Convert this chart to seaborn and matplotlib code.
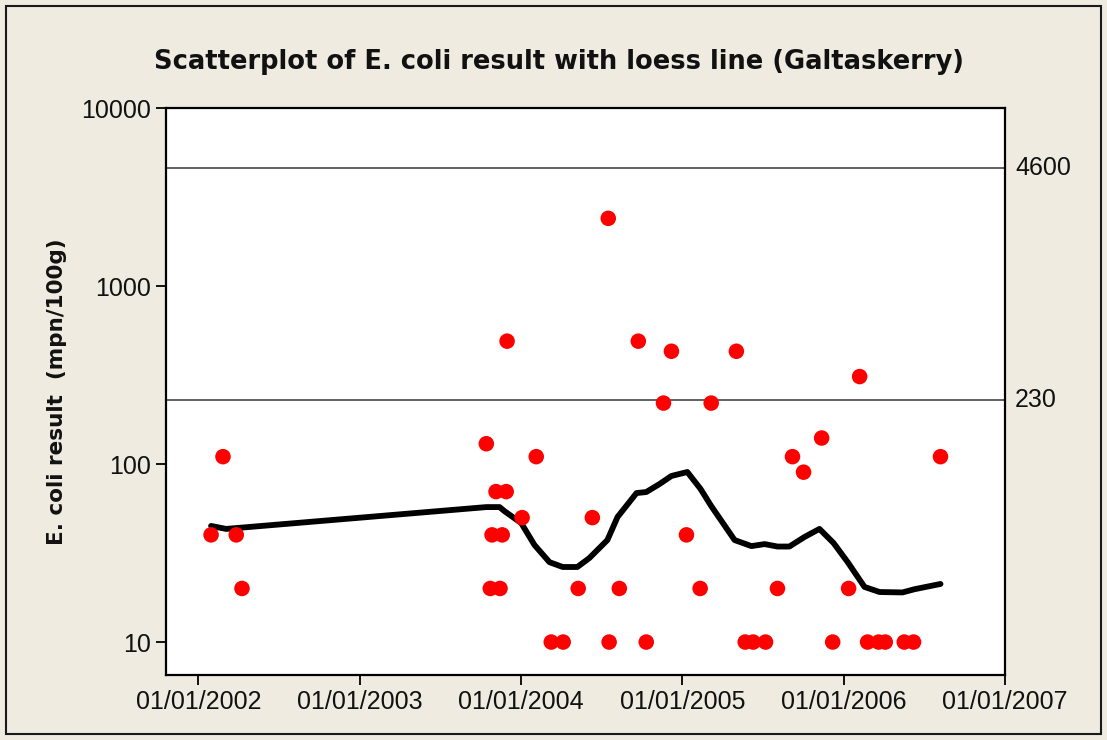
import matplotlib
matplotlib.use("Agg")
import matplotlib.pyplot as plt
import matplotlib.dates as mdates
import matplotlib.ticker as mticker
import matplotlib.transforms as mtransforms
import numpy as np
import pandas as pd
import seaborn as sns

# ---- data ----
sample_dates = [
    "2002-01-30", "2002-02-26", "2002-03-28", "2002-04-10",
    "2003-10-15", "2003-10-24", "2003-10-28", "2003-11-06", "2003-11-15",
    "2003-11-20", "2003-11-29", "2003-12-01", "2004-01-04", "2004-02-05",
    "2004-03-10", "2004-04-06", "2004-05-10", "2004-06-11", "2004-07-17",
    "2004-07-19", "2004-08-11", "2004-09-23", "2004-10-11", "2004-11-19",
    "2004-12-07", "2005-01-10", "2005-02-10", "2005-03-07", "2005-05-03",
    "2005-05-23", "2005-06-10", "2005-07-08", "2005-08-04", "2005-09-07",
    "2005-10-02", "2005-11-12", "2005-12-07", "2006-01-12", "2006-02-06",
    "2006-02-24", "2006-03-21", "2006-04-05", "2006-05-18", "2006-06-08",
    "2006-08-08",
]
ecoli_values = [
    40, 110, 40, 20,
    130, 20, 40, 70, 20,
    40, 70, 490, 50, 110,
    10, 10, 20, 50, 2400,
    10, 20, 490, 10, 220,
    430, 40, 20, 220, 430,
    10, 10, 10, 20, 110,
    90, 140, 10, 20, 310,
    10, 10, 10, 10, 10,
    110,
]
loess_dates = [
    "2002-01-30", "2002-03-05", "2003-10-15", "2003-11-14", "2003-11-25",
    "2004-01-02", "2004-02-01", "2004-03-06", "2004-04-05", "2004-05-08",
    "2004-06-04", "2004-07-15", "2004-08-07", "2004-09-19", "2004-10-11",
    "2004-11-10", "2004-12-07", "2005-01-12", "2005-02-11", "2005-03-07",
    "2005-04-29", "2005-06-06", "2005-07-06", "2005-08-04", "2005-08-31",
    "2005-10-04", "2005-11-07", "2005-12-09", "2006-01-10", "2006-02-17",
    "2006-03-23", "2006-05-14", "2006-06-10", "2006-08-08",
]
loess_values = [
    44.9, 43.2, 57.3, 57.3, 54.4,
    46.6, 35.1, 28.1, 26.4, 26.4,
    29.6, 37.4, 50.4, 68.7, 69.6,
    77.2, 85.7, 90.2, 72.4, 58.1,
    37.4, 34.6, 35.5, 34.4, 34.4,
    38.9, 43.2, 36.0, 28.1, 20.4,
    19.1, 19.0, 19.8, 21.2,
]
ref_levels = [4600, 230]
ref_labels = ["4600", "230"]
y_ticks = [10, 100, 1000, 10000]
x_tick_years = [2002, 2003, 2004, 2005, 2006, 2007]

title = "Scatterplot of E. coli result with loess line (Galtaskerry)"
ylabel = "E. coli result  (mpn/100g)"

# ---- build frames ----
pts = pd.DataFrame({"date": pd.to_datetime(sample_dates), "value": ecoli_values})
lo = pd.DataFrame({"date": pd.to_datetime(loess_dates), "value": loess_values})

sns.set_theme(style="white")
plt.rcParams["font.family"] = ["Liberation Sans", "DejaVu Sans"]

bg = "#EFEBE1"
fig = plt.figure(figsize=(11.07, 7.40), dpi=100, facecolor=bg)
ax = fig.add_axes([166 / 1107, 1 - 675 / 740, (1005 - 166) / 1107, (675 - 108) / 740])
ax.set_facecolor("white")

# outer border of figure
fig.patches.append(plt.Rectangle((6 / 1107, 6 / 740), 1 - 12 / 1107, 1 - 12 / 740,
                                 transform=fig.transFigure, fill=False,
                                 edgecolor="#1a1a1a", linewidth=1.5, zorder=0))

for lvl in ref_levels:
    ax.axhline(lvl, color="#555555", linewidth=1.3, zorder=1)

sns.lineplot(data=lo, x="date", y="value", ax=ax, color="black",
             linewidth=4.2, zorder=3, sort=True)
sns.scatterplot(data=pts, x="date", y="value", ax=ax, color="#FF0000",
                s=125, edgecolor="none", linewidth=0, zorder=4)

ax.set_yscale("log")
ax.set_ylim(6.53, 10000)
ax.set_xlim(pd.Timestamp("2001-10-20"), pd.Timestamp("2007-01-01"))

ax.yaxis.set_major_locator(mticker.FixedLocator(y_ticks))
ax.yaxis.set_major_formatter(mticker.FixedFormatter([str(v) for v in y_ticks]))
ax.yaxis.set_minor_locator(mticker.NullLocator())

ax.xaxis.set_major_locator(mticker.FixedLocator(
    [mdates.date2num(pd.Timestamp(f"{y}-01-01")) for y in x_tick_years]))
ax.xaxis.set_major_formatter(mdates.DateFormatter("%d/%m/%Y"))

ax.tick_params(axis="both", which="major", direction="out", length=7, width=1.3,
               color="black", labelsize=18, labelcolor="#111111", pad=4,
               bottom=True, left=True)
for s in ax.spines.values():
    s.set_color("black")
    s.set_linewidth(1.6)

ax.set_xlabel("")
ax.set_ylabel(ylabel, fontsize=15.5, fontweight="bold", labelpad=10,
              family="DejaVu Sans", color="#111111")

trans = mtransforms.blended_transform_factory(ax.transAxes, ax.transData)
for lvl, lab in zip(ref_levels, ref_labels):
    ax.text(1.012, lvl, lab, transform=trans, ha="left", va="center",
            fontsize=18, color="#111111")

fig.text(559 / 1107, 1 - 62 / 740, title, ha="center", va="center",
         fontsize=18.5, fontweight="bold", color="#111111", family="DejaVu Sans")

fig.savefig("out.png", dpi=100, facecolor=bg)
